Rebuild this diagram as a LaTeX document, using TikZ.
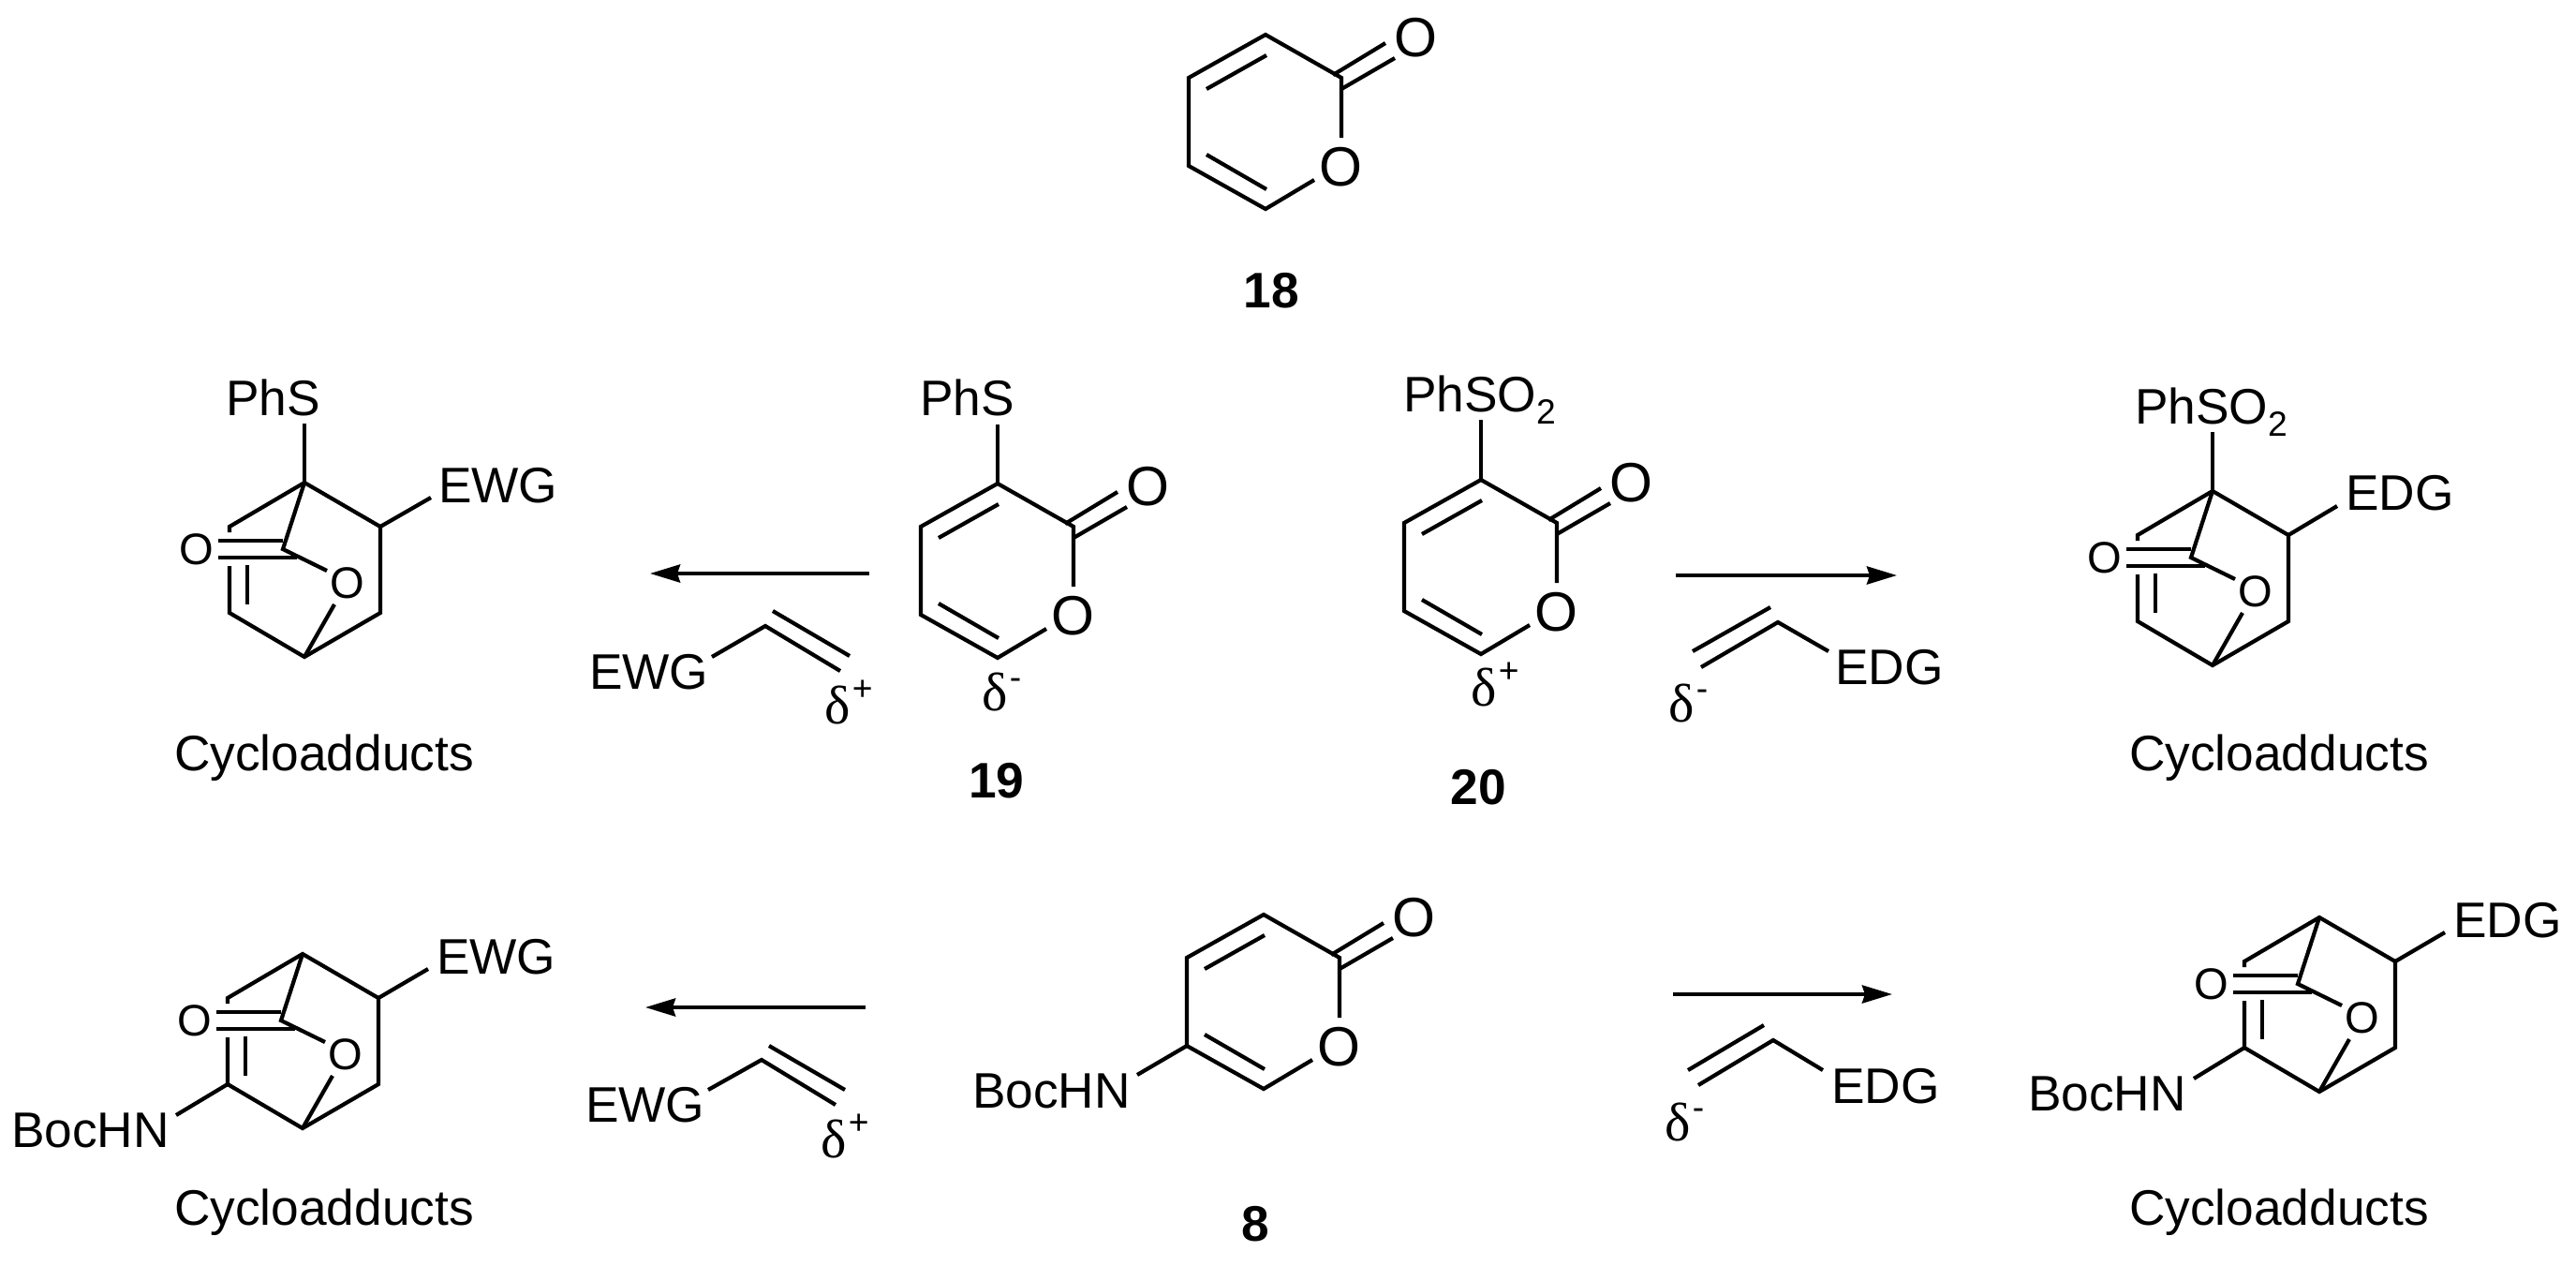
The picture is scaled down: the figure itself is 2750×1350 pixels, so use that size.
\documentclass[tikz,border=0pt]{standalone}
\usepackage{fontspec}
\setmainfont{Liberation Sans}
\newfontfamily\deltafont{Liberation Serif}
\usetikzlibrary{arrows.meta}
\tikzset{
  bond/.style={line width=0.042cm,line join=miter,line cap=butt},
  rxn/.style={line width=0.04cm,-{Stealth[length=0.32cm,width=0.19cm,inset=0.03cm]}},
  txt/.style={inner sep=0pt,outer sep=0pt,anchor=base west,font=\fontsize{15.15pt}{18pt}\selectfont},
  ringatom/.style={inner sep=0pt,outer sep=0pt,anchor=center,font=\fontsize{16.8pt}{18pt}\selectfont},
  cageatom/.style={inner sep=0pt,outer sep=0pt,anchor=center,font=\fontsize{13.4pt}{18pt}\selectfont},
  cpd/.style={inner sep=0pt,outer sep=0pt,anchor=base,font=\fontsize{15.15pt}{18pt}\selectfont\bfseries},
}
\newcommand\dplus{{\fontsize{16.5pt}{18pt}\deltafont δ}\hspace{0.7pt}\raisebox{7pt}{\fontsize{10.6pt}{12pt}\selectfont +}}
\newcommand\dminus{{\fontsize{16.5pt}{18pt}\deltafont δ}\hspace{0.7pt}\raisebox{6.3pt}{\fontsize{10.6pt}{12pt}\selectfont -}}
\newcommand\subtwo{\raisebox{-3.7pt}{\fontsize{10.6pt}{12pt}\selectfont 2}}
% 2-pyranone ring; #1 name prefix, #2,#3 position of the top ring atom
\newcommand\pyranone[3]{%
  \begin{scope}[shift={(#2,#3)}]
    \coordinate (#1t) at (0,0);
    \coordinate (#1c) at (81,46);
    \coordinate (#1ce) at (81,110);
    \coordinate (#1b) at (0,186);
    \coordinate (#1bs) at (52,155);
    \coordinate (#1ll) at (-82,140);
    \coordinate (#1ul) at (-82,46);
    \coordinate (#1da) at (72,43);
    \coordinate (#1db) at (128,9);
    \coordinate (#1dc) at (81,58);
    \coordinate (#1dd) at (138,25);
    \coordinate (#1ia) at (-63,58);
    \coordinate (#1ib) at (1,22);
    \coordinate (#1ic) at (-63,128);
    \coordinate (#1id) at (1,165);
    \node[ringatom] (#1O) at (80,141) {O};
    \node[ringatom] (#1Ok) at (160,3) {O};
    \draw[bond] (#1ce) -- (#1c) -- (#1t) -- (#1ul) -- (#1ll) -- (#1b) -- (#1bs);
    \draw[bond] (#1da) -- (#1db);
    \draw[bond] (#1dc) -- (#1dd);
    \draw[bond] (#1ia) -- (#1ib);
    \draw[bond] (#1ic) -- (#1id);
  \end{scope}}
% bicyclic adduct; #1 name prefix, #2,#3 position of the top bridgehead
\newcommand\bicyc[3]{%
  \begin{scope}[shift={(#2,#3)}]
    \coordinate (#1t) at (0,0);
    \coordinate (#1ra) at (81,47);
    \coordinate (#1rb) at (81,139);
    \coordinate (#1b) at (0,186);
    \coordinate (#1lb) at (-80,139);
    \coordinate (#1le) at (-80,89);
    \coordinate (#1ia) at (-61,88);
    \coordinate (#1ib) at (-61,130);
    \coordinate (#1la) at (-80,47);
    \coordinate (#1ls) at (-80,53);
    \coordinate (#1m) at (-23,71);
    \coordinate (#1me) at (24,94);
    \coordinate (#1os) at (32,130);
    \coordinate (#1ca) at (-92,62);
    \coordinate (#1cb) at (-23,62);
    \coordinate (#1cc) at (-92,80);
    \coordinate (#1cd) at (-8,80);
    \node[cageatom] (#1O) at (46,107) {O};
    \node[cageatom] (#1Ok) at (-115,71) {O};
    \draw[bond] (#1ls) -- (#1la) -- (#1t) -- (#1ra) -- (#1rb) -- (#1b) -- (#1lb) -- (#1le);
    \draw[bond] (#1t) -- (#1m) -- (#1me);
    \draw[bond] (#1os) -- (#1b);
    \draw[bond] (#1ia) -- (#1ib);
    \draw[bond] (#1ca) -- (#1cb);
    \draw[bond] (#1cc) -- (#1cd);
  \end{scope}}
\begin{document}
\begin{tikzpicture}[x=0.01cm,y=-0.01cm]
\useasboundingbox (0,0) rectangle (2750,1350);
\fill[white] (0,0) rectangle (2750,1350);

% ---- 18
\pyranone{a}{1351}{37}
\node[cpd] (n18) at (1357,328) {18};

% ---- 19
\pyranone{b}{1065}{516}
\coordinate (bs) at (1065,453);
\draw[bond] (bs) -- (bt);
\node[txt] (bPhS) at (982,443) {PhS};
\node[txt] (bdelta) at (1048,758) {\dminus};
\node[cpd] (n19) at (1064,851) {19};

% ---- 20
\pyranone{c}{1581}{512}
\coordinate (cs) at (1581,448);
\draw[bond] (cs) -- (ct);
\node[txt] (cPh) at (1498,439) {PhSO\subtwo};
\node[txt] (cdelta) at (1570,753) {\dplus};
\node[cpd] (n20) at (1578,858) {20};

% ---- 8
\pyranone{d}{1349}{976}
\coordinate (ds) at (1214,1147);
\draw[bond] (ds) -- (dll);
\node[txt] (dBoc) at (1038,1182) {BocHN};
\node[cpd] (n8) at (1340,1324) {8};

% ---- adducts, top left
\bicyc{e}{325}{515}
\coordinate (es) at (325,452);
\coordinate (eg) at (460,531);
\draw[bond] (es) -- (et);
\draw[bond] (eg) -- (era);
\node[txt] (ePhS) at (241,443) {PhS};
\node[txt] (eEWG) at (468,536) {EWG};
\node[txt] (eCy) at (186,822) {Cycloadducts};

% ---- adducts, top right
\bicyc{f}{2362}{524}
\coordinate (fs) at (2362,461);
\coordinate (fg) at (2495,540);
\draw[bond] (fs) -- (ft);
\draw[bond] (fg) -- (fra);
\node[txt] (fPh) at (2279,452) {PhSO\subtwo};
\node[txt] (fEDG) at (2504,544) {EDG};
\node[txt] (fCy) at (2273,822) {Cycloadducts};

% ---- adducts, bottom left
\bicyc{g}{323}{1018}
\coordinate (gg) at (457,1034);
\coordinate (gn) at (188,1190);
\draw[bond] (gg) -- (gra);
\draw[bond] (gn) -- (glb);
\node[txt] (gEWG) at (466,1039) {EWG};
\node[txt] (gBoc) at (12,1224) {BocHN};
\node[txt] (gCy) at (186,1307) {Cycloadducts};

% ---- adducts, bottom right
\bicyc{h}{2476}{979}
\coordinate (hg) at (2610,995);
\coordinate (hn) at (2342,1151);
\draw[bond] (hg) -- (hra);
\draw[bond] (hn) -- (hlb);
\node[txt] (hEDG) at (2619,1000) {EDG};
\node[txt] (hBoc) at (2165,1185) {BocHN};
\node[txt] (hCy) at (2273,1307) {Cycloadducts};

% ---- vinyl partner, row 1 left
\coordinate (va) at (817,668);
\coordinate (vb) at (760,701);
\coordinate (vc) at (897,716);
\coordinate (vd) at (825,652);
\coordinate (ve) at (907,700);
\draw[bond] (vb) -- (va) -- (vc);
\draw[bond] (vd) -- (ve);
\node[txt] (vEWG) at (629,735) {EWG};
\node[txt] (vdelta) at (880,772) {\dplus};

% ---- vinyl partner, row 1 right
\coordinate (wa) at (1898,664);
\coordinate (wb) at (1952,695);
\coordinate (wc) at (1816,712);
\coordinate (wd) at (1890,648);
\coordinate (we) at (1807,695);
\draw[bond] (wb) -- (wa) -- (wc);
\draw[bond] (wd) -- (we);
\node[txt] (wEDG) at (1959,730) {EDG};
\node[txt] (wdelta) at (1781,770) {\dminus};

% ---- vinyl partner, row 2 left
\coordinate (xa) at (813,1131);
\coordinate (xb) at (756,1163);
\coordinate (xc) at (892,1179);
\coordinate (xd) at (821,1116);
\coordinate (xe) at (902,1163);
\draw[bond] (xb) -- (xa) -- (xc);
\draw[bond] (xd) -- (xe);
\node[txt] (xEWG) at (625,1197) {EWG};
\node[txt] (xdelta) at (876,1235) {\dplus};

% ---- vinyl partner, row 2 right
\coordinate (ya) at (1893,1110);
\coordinate (yb) at (1946,1142);
\coordinate (yc) at (1813,1158);
\coordinate (yd) at (1883,1094);
\coordinate (ye) at (1802,1142);
\draw[bond] (yb) -- (ya) -- (yc);
\draw[bond] (yd) -- (ye);
\node[txt] (yEDG) at (1955,1177) {EDG};
\node[txt] (ydelta) at (1777,1217) {\dminus};

% ---- reaction arrows
\coordinate (ra1) at (928,612);
\coordinate (ra2) at (694,612);
\coordinate (rb1) at (1789,614);
\coordinate (rb2) at (2025,614);
\coordinate (rc1) at (924,1075);
\coordinate (rc2) at (689,1075);
\coordinate (rd1) at (1786,1061);
\coordinate (rd2) at (2020,1061);
\draw[rxn] (ra1) -- (ra2);
\draw[rxn] (rb1) -- (rb2);
\draw[rxn] (rc1) -- (rc2);
\draw[rxn] (rd1) -- (rd2);
\end{tikzpicture}
\end{document}
